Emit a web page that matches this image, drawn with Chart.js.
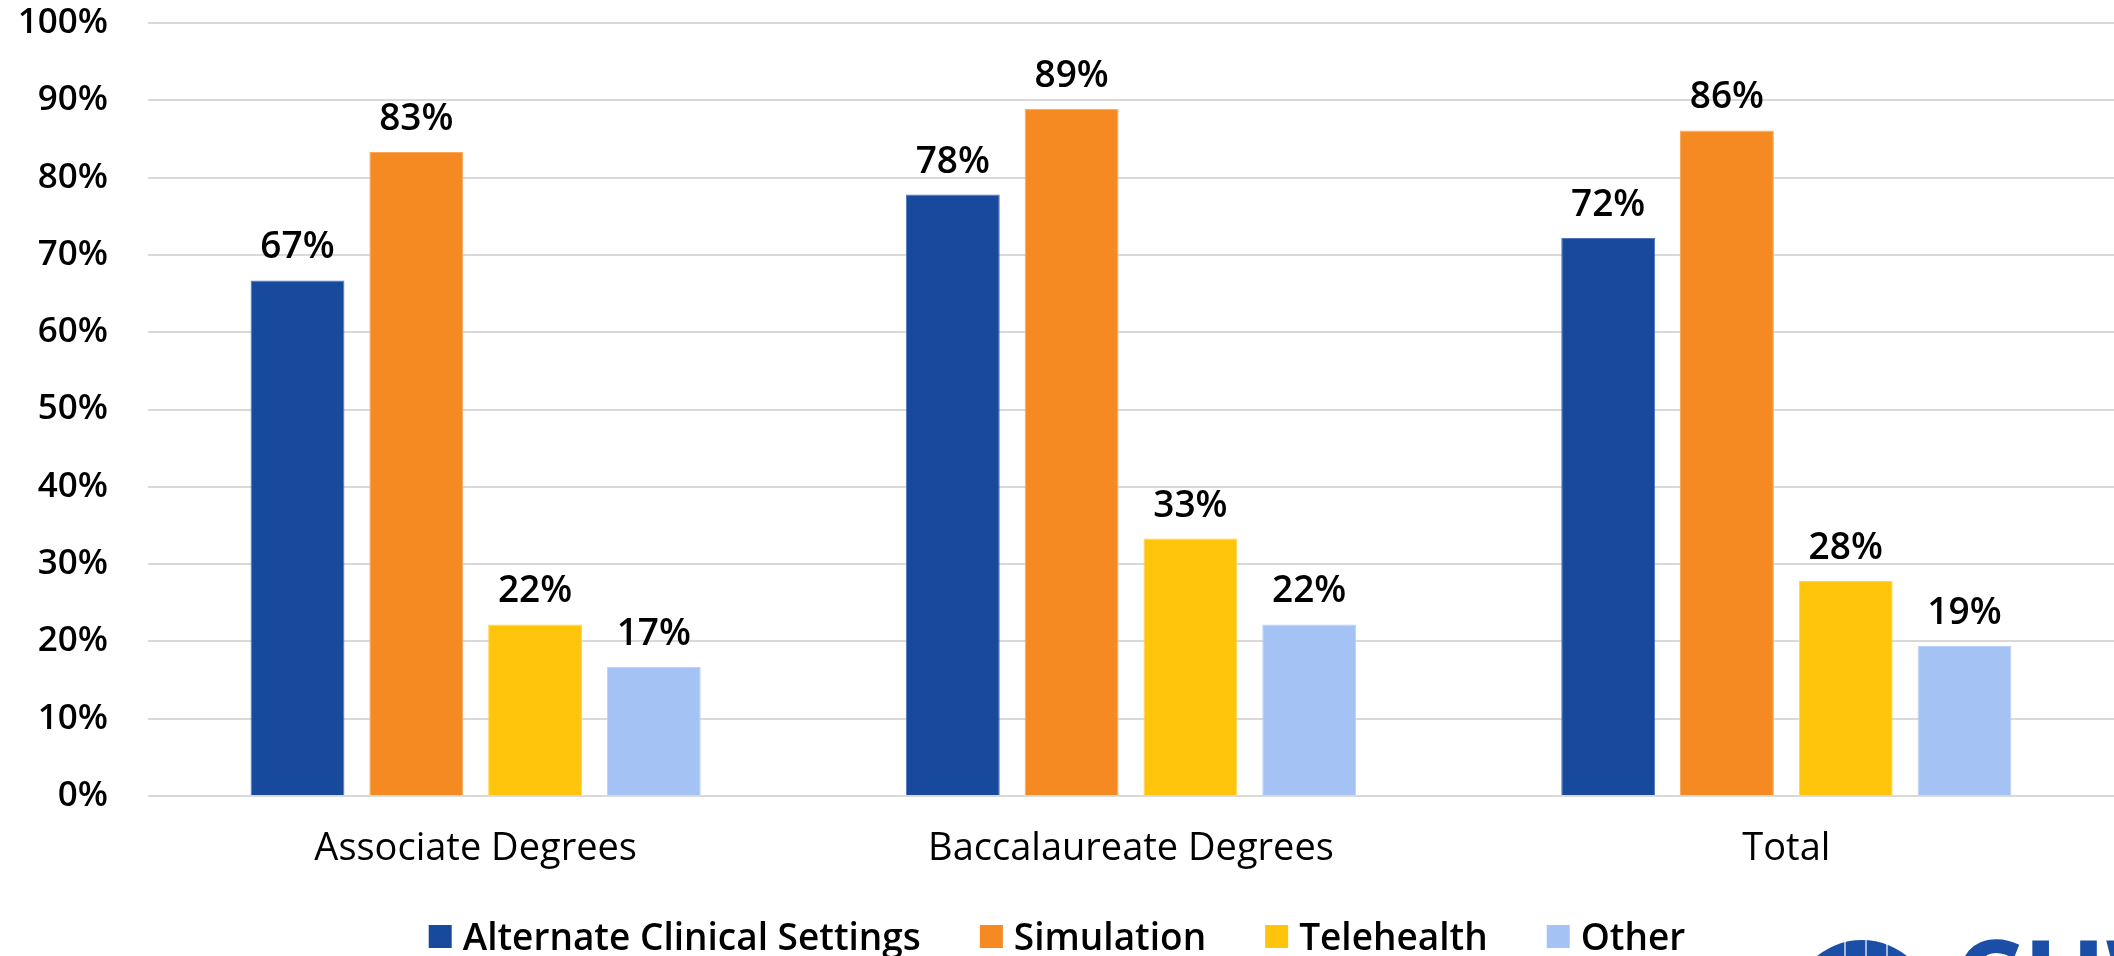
<!DOCTYPE html>
<html>
<head>
<meta charset="utf-8">
<script src="https://cdn.jsdelivr.net/npm/chart.js@4/dist/chart.umd.min.js"></script>
<style>
  html, body { margin: 0; padding: 0; background: #fff; overflow: hidden; }
  #wrap { width: 2114px; height: 956px; }
</style>
</head>
<body>
<div id="wrap"><canvas id="c" width="2114" height="956"></canvas></div>
<script>
// Program types
const categories = ['Associate Degrees', 'Baccalaureate Degrees', 'Total'];

// Share of programs using each clinical alternative (%)
const alternateClinical = [66.7, 77.8, 72.2];
const simulation        = [83.3, 88.9, 86.1];
const telehealth        = [22.2, 33.3, 27.8];
const other             = [16.7, 22.2, 19.4];

const seriesNames = ['Alternate Clinical Settings', 'Simulation', 'Telehealth', 'Other'];
const yTicks = [0, 10, 20, 30, 40, 50, 60, 70, 80, 90, 100];

const FONT = "'Open Sans', 'Noto Sans', sans-serif";

// Value labels above each bar
const valueLabels = {
  id: 'valueLabels',
  afterDatasetsDraw(chart) {
    const ctx = chart.ctx;
    ctx.save();
    ctx.font = `600 37px ${FONT}`;
    ctx.fillStyle = '#000';
    ctx.textAlign = 'center';
    ctx.textBaseline = 'alphabetic';
    chart.data.datasets.forEach((ds, i) => {
      chart.getDatasetMeta(i).data.forEach((bar, j) => {
        ctx.fillText(Math.round(ds.data[j]) + '%', bar.x, bar.y - 22);
      });
    });
    ctx.restore();
  }
};

// Legend row along the bottom edge, centred on the canvas
const bottomLegend = {
  id: 'bottomLegend',
  afterDraw(chart) {
    const ctx = chart.ctx;
    const box = 23, gapText = 11, gapItem = 59, baseline = 950;
    ctx.save();
    ctx.font = `600 37px ${FONT}`;
    ctx.textBaseline = 'alphabetic';
    ctx.textAlign = 'left';
    const items = chart.data.datasets.map(ds => ({
      text: ds.label, color: ds.backgroundColor, w: ctx.measureText(ds.label).width
    }));
    const total = items.reduce((s, it) => s + box + gapText + it.w, 0) + gapItem * (items.length - 1);
    let x = (chart.width - total) / 2;
    items.forEach(it => {
      ctx.fillStyle = it.color;
      ctx.fillRect(x, 925, box, box);
      ctx.fillStyle = '#000';
      ctx.fillText(it.text, x + box + gapText, baseline);
      x += box + gapText + it.w + gapItem;
    });
    ctx.restore();
  }
};

// Corner emblem partly visible at the lower right
const emblem = {
  id: 'emblem',
  afterDraw(chart) {
    const ctx = chart.ctx;
    ctx.save();
    ctx.fillStyle = '#1b4ea6';
    ctx.beginPath();
    ctx.arc(1862, 1011, 71, 0, Math.PI * 2);
    ctx.fill();
    ctx.strokeStyle = 'rgba(255,255,255,0.8)';
    ctx.lineWidth = 1.5;
    [1845, 1866, 1887].forEach(x => {
      ctx.beginPath(); ctx.moveTo(x, 930); ctx.lineTo(x, 1000); ctx.stroke();
    });
    ctx.font = `700 110px ${FONT}`;
    ctx.textAlign = 'left';
    ctx.textBaseline = 'alphabetic';
    ctx.fillText('CUW', 1953, 1019);
    ctx.restore();
  }
};

const colors = ['#17499c', '#f68a22', '#ffc50d', '#a4c2f4'];
const borders = ['#4f74b8', '#f9a75a', '#ffd54f', '#bcd2f7'];

new Chart(document.getElementById('c'), {
  type: 'bar',
  data: {
    labels: categories,
    datasets: [alternateClinical, simulation, telehealth, other].map((d, i) => ({
      label: seriesNames[i],
      data: d,
      backgroundColor: colors[i],
      borderColor: borders[i],
      borderWidth: 1,
      categoryPercentage: 0.725,
      barPercentage: 0.79
    }))
  },
  options: {
    responsive: false,
    animation: false,
    devicePixelRatio: 1,
    layout: { padding: { top: 0, right: 0, left: 0, bottom: 70 } },
    plugins: {
      tooltip: { enabled: false },
      legend: { display: false }
    },
    scales: {
      x: {
        grid: { display: false },
        border: { display: false },
        ticks: { color: '#000', font: { family: FONT, size: 38 }, padding: 22 },
        afterFit(s) { s.height = 90; }
      },
      y: {
        min: 0,
        max: 100,
        afterBuildTicks(s) { s.ticks = yTicks.map(v => ({ value: v })); },
        grid: { color: '#d9d9d9', lineWidth: 2, drawTicks: false },
        border: { display: false },
        ticks: {
          color: '#000',
          padding: 40,
          font: { family: FONT, size: 35, weight: '600' },
          callback: v => v + '%'
        },
        afterFit(s) {
          s.width = 148;
          s.paddingTop = 23;
          s.paddingBottom = 0;
        }
      }
    }
  },
  plugins: [valueLabels, bottomLegend, emblem]
});
</script>
</body>
</html>
